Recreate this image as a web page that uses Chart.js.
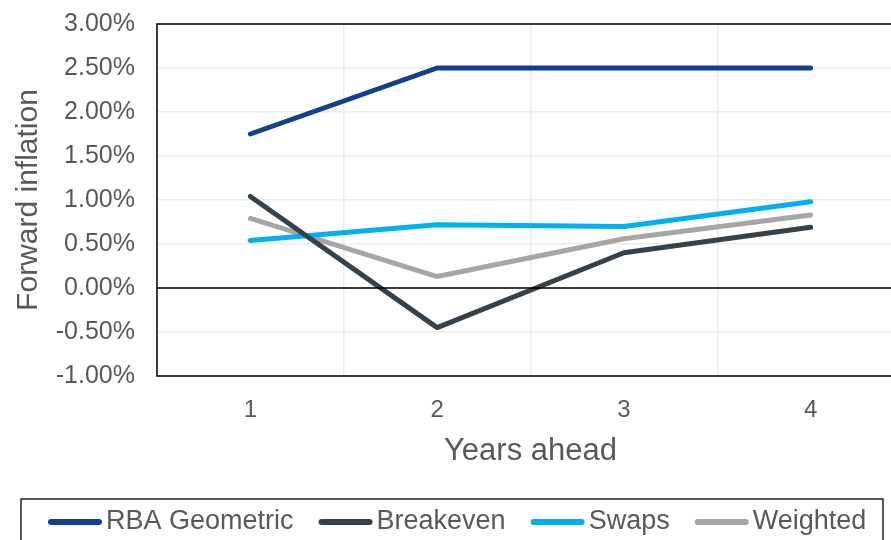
<!DOCTYPE html>
<html>
<head>
<meta charset="utf-8">
<script src="https://cdn.jsdelivr.net/npm/chart.js@4.4.0/dist/chart.umd.min.js"></script>
<style>
  html, body { margin: 0; padding: 0; background: #fff; overflow: hidden; }
  #wrap { width: 910px; height: 540px; }
</style>
</head>
<body>
<div id="wrap"><canvas id="myChart"></canvas></div>
<script>
// DONNEES DU GRAPHIQUE
var years = ["1", "2", "3", "4"];
var rbaGeometric = [1.75, 2.50, 2.50, 2.50];
var breakeven = [1.04, -0.45, 0.40, 0.69];
var swaps = [0.54, 0.72, 0.70, 0.98];
var weighted = [0.79, 0.13, 0.56, 0.83];
var yTicks = [-1, -0.5, 0, 0.5, 1, 1.5, 2, 2.5, 3];

var textColor = "#595959";
var fontName = "'Liberation Sans', Arial, sans-serif";

// CADRE NOIR AUTOUR DE LA ZONE DU GRAPHIQUE
var framePlugin = {
    id: "frame",
    afterDatasetsDraw: function(chart) {
        var ctx = chart.ctx;
        var a = chart.chartArea;
        ctx.save();
        ctx.strokeStyle = "#000";
        ctx.lineWidth = 1.5;
        ctx.strokeRect(a.left, a.top, a.right - a.left, a.bottom - a.top);
        var y0 = chart.scales.y.getPixelForValue(0);
        ctx.lineWidth = 1.3;
        ctx.beginPath();
        ctx.moveTo(a.left, y0);
        ctx.lineTo(a.right, y0);
        ctx.stroke();
        ctx.restore();
    }
};

// LEGENDE DESSINEE A LA MAIN EN BAS
var legendPlugin = {
    id: "boxLegend",
    afterDraw: function(chart) {
        var ctx = chart.ctx;
        ctx.save();
        ctx.strokeStyle = "#000";
        ctx.lineWidth = 1.3;
        ctx.strokeRect(21, 499, 862, 60);
        ctx.font = "27px " + fontName;
        ctx.textBaseline = "middle";
        var x = 48;
        var y = 522;
        chart.data.datasets.forEach(function(ds) {
            ctx.strokeStyle = ds.borderColor;
            ctx.lineWidth = 6;
            ctx.lineCap = "round";
            ctx.beginPath();
            ctx.moveTo(x + 3, y);
            ctx.lineTo(x + 51, y);
            ctx.stroke();
            ctx.fillStyle = textColor;
            ctx.fillText(ds.label, x + 58, y);
            x += 58 + ctx.measureText(ds.label).width + 25;
        });
        ctx.restore();
    }
};

new Chart(document.getElementById("myChart"), {
    type: "line",
    data: {
        labels: years,
        datasets: [{
            label: "RBA Geometric",
            data: rbaGeometric,
            borderColor: "#123f8e"
        }, {
            label: "Breakeven",
            data: breakeven,
            borderColor: "#36424b"
        }, {
            label: "Swaps",
            data: swaps,
            borderColor: "#00b0f0"
        }, {
            label: "Weighted",
            data: weighted,
            borderColor: "#a6a6a6"
        }]
    },
    options: {
        responsive: true,
        maintainAspectRatio: false,
        animation: false,
        elements: {
            line: { borderWidth: 5, tension: 0, borderCapStyle: "round", borderJoinStyle: "round" },
            point: { radius: 0 }
        },
        layout: { padding: { top: 24, right: 6, bottom: 70, left: 0 } },
        plugins: {
            legend: { display: false },
            tooltip: { enabled: false }
        },
        scales: {
            x: {
                offset: true,
                afterFit: function(scale) { scale.height = 94; },
                grid: { offset: true, color: "#ececec", lineWidth: 1.5, drawTicks: false },
                border: { display: false },
                ticks: { color: textColor, font: { family: fontName, size: 24 }, padding: 20 },
                title: {
                    display: true,
                    text: "Years ahead",
                    color: textColor,
                    font: { family: fontName, size: 31 },
                    padding: { top: 8, bottom: 0 }
                }
            },
            y: {
                min: -1,
                max: 3,
                afterBuildTicks: function(scale) {
                    scale.ticks = yTicks.map(function(v) { return { value: v }; });
                },
                afterFit: function(scale) {
                    scale.width = 157;
                    scale.paddingTop = 0;
                    scale.paddingBottom = 0;
                },
                grid: { color: "#ececec", lineWidth: 1.5, drawTicks: false },
                border: { display: false },
                ticks: {
                    color: textColor,
                    font: { family: fontName, size: 25 },
                    padding: 22,
                    callback: function(v) { return v.toFixed(2) + "%"; }
                },
                title: {
                    display: true,
                    text: "Forward inflation",
                    color: textColor,
                    font: { family: fontName, size: 30 },
                    padding: { top: 11, bottom: 0 }
                }
            }
        }
    },
    plugins: [framePlugin, legendPlugin]
});
</script>
</body>
</html>
